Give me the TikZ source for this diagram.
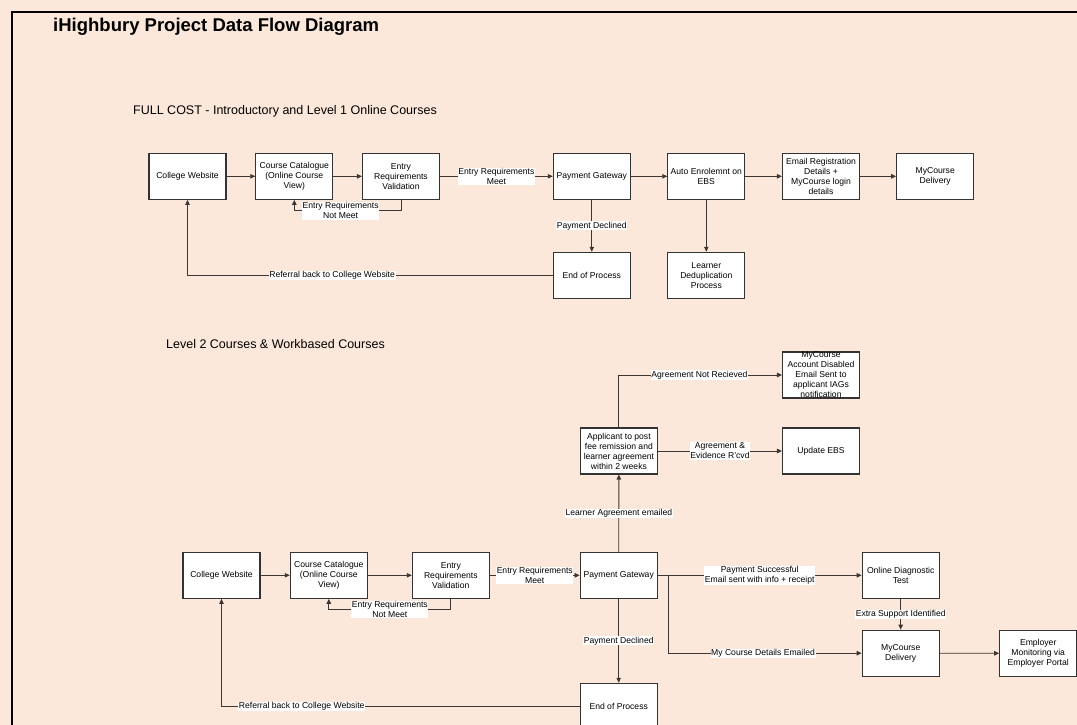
\documentclass[tikz,border=0pt]{standalone}
\usepackage{fontspec}
\setmainfont{Liberation Sans}
\usetikzlibrary{arrows.meta,calc}
\definecolor{bg}{RGB}{252,232,218}
\definecolor{ln}{RGB}{62,54,50}
\begin{document}
\begin{tikzpicture}[x=1pt,y=-1pt,
  box/.style={draw=black!80,line width=1.1pt,fill=white,minimum width=77pt,minimum height=46pt,inner sep=0pt,align=center,font=\fontsize{8.6}{10}\selectfont},
  boxtext/.style={inner sep=0pt,align=center,font=\fontsize{8.6}{10}\selectfont},
  lab/.style={fill=white,inner sep=0.6pt,align=center,font=\fontsize{8.6}{10}\selectfont},
  conn/.style={draw=ln,line width=0.9pt,-{Triangle[length=5pt,width=4.5pt]}},
  plain/.style={draw=ln,line width=0.9pt}]
\fill[bg] (0,0) rectangle (1077,725);
\useasboundingbox (0,0) rectangle (1077,725);
\clip (0,0) rectangle (1077,725);
\draw[line width=2pt] (12,740) -- (12,12) -- (1090,12);

% titles
\node[anchor=base west,inner sep=0pt,font=\fontsize{18.5}{22}\selectfont\bfseries] (title) at (53,32) {iHighbury Project Data Flow Diagram};
\node[anchor=base west,inner sep=0pt,font=\fontsize{12.5}{15}\selectfont] (sub1) at (133,114.5) {FULL COST - Introductory and Level 1 Online Courses};
\node[anchor=base west,inner sep=0pt,font=\fontsize{12.5}{15}\selectfont] (sub2) at (166,348.5) {Level 2 Courses \& Workbased Courses};

% ---------- top section ----------
\node[box] (cw1) at (187.5,176.3) {College Website};
\node[box] (cc1) at (294.3,176.3) {Course Catalogue\\(Online Course\\View)};
\node[box] (ev1) at (401,176.3) {Entry\\Requirements\\Validation};
\node[box] (pg1) at (591.8,176.3) {Payment Gateway};
\node[box] (ae1) at (706.3,176.3) {Auto Enrolemnt on\\EBS};
\node[box] (er1) at (821,176.3) {Email Registration\\Details +\\MyCourse login\\details};
\node[box] (md1) at (935.2,176.3) {MyCourse\\Delivery};
\node[box] (eop1) at (591.8,275.3) {End of Process};
\node[box] (ld1) at (706.3,275.3) {Learner\\Deduplication\\Process};

\draw[conn] (cw1) -- (cc1);
\draw[conn] (cc1) -- (ev1);
\draw[conn] (ev1) -- node[lab] {Entry Requirements\\Meet} (pg1);
\draw[conn] (pg1) -- (ae1);
\draw[conn] (ae1) -- (er1);
\draw[conn] (er1) -- (md1);
\draw[conn] (pg1) -- node[lab] {Payment Declined} (eop1);
\draw[conn] (ae1) -- (ld1);
\draw[conn] (ev1.south) -- ++(0,11) -| node[lab,pos=0.283] {Entry Requirements\\Not Meet} (cc1.south);
\draw[conn] (eop1.west) -| node[lab,pos=0.302] {Referral back to College Website} (cw1.south);

% ---------- bottom section ----------
\node[box] (cw2) at (221.5,575.3) {College Website};
\node[box] (cc2) at (328.8,575.3) {Course Catalogue\\(Online Course\\View)};
\node[box] (ev2) at (450.8,575.3) {Entry\\Requirements\\Validation};
\node[box] (pg2) at (618.7,575.3) {Payment Gateway};
\node[box] (eop2) at (618.7,706.3) {End of Process};
\node[box] (app) at (618.9,451) {Applicant to post\\fee remission and\\learner agreement\\within 2 weeks};
\node[box] (upd) at (821,451) {Update EBS};
\node[box] (mad) at (821,375) {};
\node[boxtext] (madt) at (mad.center) {MyCourse\\Account Disabled\\Email Sent to\\applicant IAGs\\notification};
\node[box] (odt) at (900.7,575.3) {Online Diagnostic\\Test};
\node[box] (md2) at (900.7,653.2) {MyCourse\\Delivery};
\node[box] (emp) at (1038.2,653.3) {Employer\\Monitoring via\\Employer Portal};
\coordinate (br) at (668.3,575.3);

\draw[conn] (cw2) -- (cc2);
\draw[conn] (cc2) -- (ev2);
\draw[conn] (ev2) -- node[lab] {Entry Requirements\\Meet} (pg2);
\draw[conn] (ev2.south) -- ++(0,10.7) -| node[lab,pos=0.25] {Entry Requirements\\Not Meet} (cc2.south);
\draw[conn] (pg2) -- node[lab] {Payment Declined} (eop2);
\draw[conn] (eop2.west) -| node[lab,pos=0.388] {Referral back to College Website} (cw2.south);
\draw[conn] (pg2) -- node[lab] {Learner Agreement emailed} (app);
\draw[conn] (app.north) |- node[lab,pos=0.747] {Agreement Not Recieved} (mad.west);
\draw[conn] (app) -- node[lab] {Agreement \&\\Evidence R’cvd} (upd);
\draw[conn] (pg2) -- node[lab] {Payment Successful\\Email sent with info + receipt} (odt);
\draw[conn] (br) |- node[lab,pos=0.745] {My Course Details Emailed} (md2.west);
\draw[conn] (odt) -- node[lab] {Extra Support Identified} (md2);
\draw[conn] (md2) -- (emp);
\end{tikzpicture}
\end{document}
